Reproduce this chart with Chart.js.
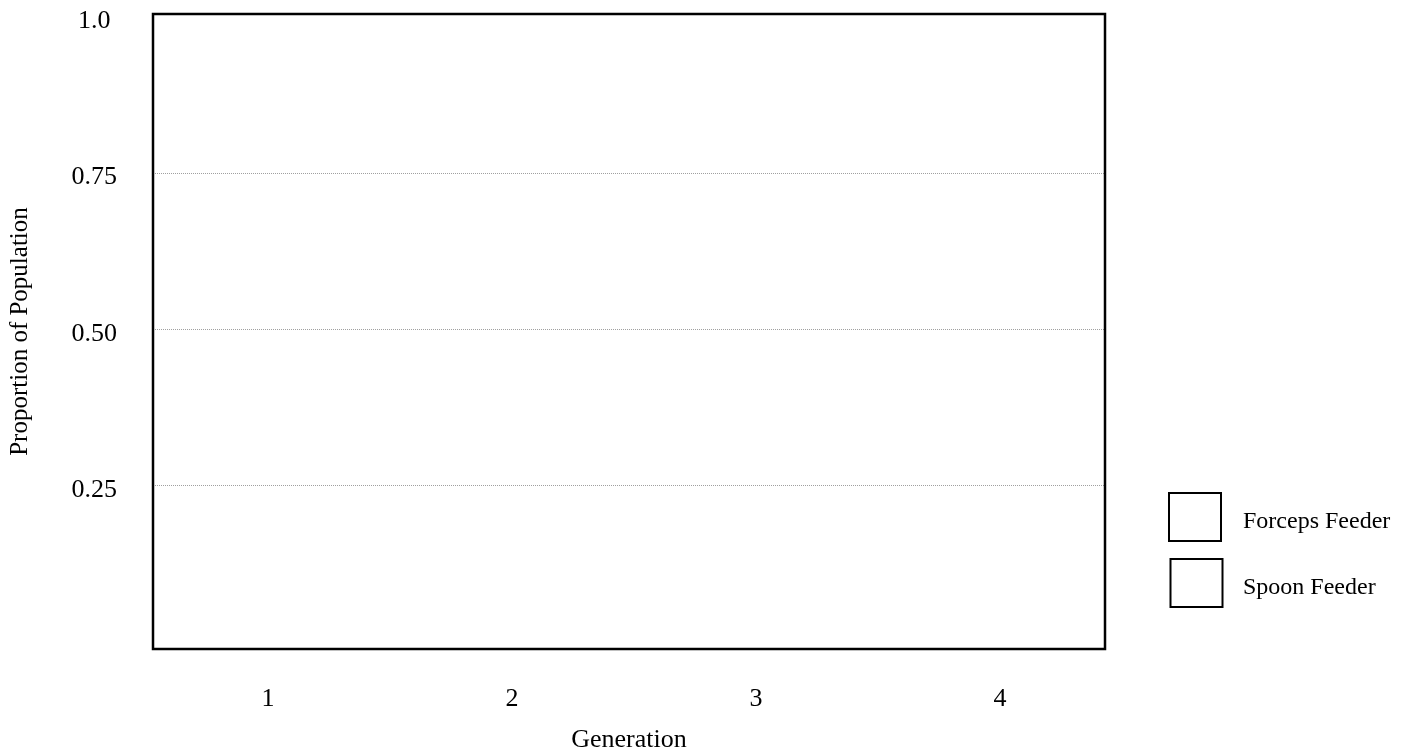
<!DOCTYPE html>
<html>
<head>
<meta charset="utf-8">
<title>Proportion of Population by Generation</title>
<script src="https://cdn.jsdelivr.net/npm/chart.js@4"></script>
<style>
html, body { margin: 0; padding: 0; background: #fff; }
#wrap { width: 1407px; height: 751px; }
</style>
</head>
<body>
<div id="wrap"><canvas id="myChart"></canvas></div>
<script>
// x axis: generations
var generations = [1, 2, 3, 4];
// blank worksheet chart - no values filled in yet
var forcepsFeeder = [null, null, null, null];
var spoonFeeder = [null, null, null, null];
var seriesNames = ['Forceps Feeder', 'Spoon Feeder'];
// y axis ticks
var yTickValues = [0.25, 0.5, 0.75, 1.0];
var yTickLabels = ['0.25', '0.50', '0.75', '1.0'];

Chart.defaults.font.family = "'Liberation Serif', 'Times New Roman', serif";
Chart.defaults.color = '#000';

// frame round the plot area
var framePlugin = {
	id: 'frame',
	afterDraw: function(chart){
		var a = chart.chartArea, ctx = chart.ctx;
		ctx.save();
		ctx.strokeStyle = '#000';
		ctx.lineWidth = 2.5;
		ctx.strokeRect(a.left, a.top, a.right - a.left, a.bottom - a.top);
		ctx.restore();
	}
};

// empty boxes legend on the right
var boxLegend = {
	id: 'boxLegend',
	afterDraw: function(chart){
		var a = chart.chartArea, ctx = chart.ctx;
		ctx.save();
		chart.data.datasets.forEach(function(ds, i){
			var bx = a.right + 64 + i * 1.5;
			var by = a.top + 479 + i * 66;
			ctx.strokeStyle = '#000';
			ctx.lineWidth = 2;
			ctx.fillStyle = ds.backgroundColor;
			ctx.fillRect(bx, by, 52, 48);
			ctx.strokeRect(bx, by, 52, 48);
			ctx.fillStyle = '#000';
			ctx.font = "24px 'Liberation Serif', 'Times New Roman', serif";
			ctx.textAlign = 'left';
			ctx.textBaseline = 'middle';
			ctx.fillText(ds.label, a.right + 138, by + 28.5);
		});
		ctx.restore();
	}
};

function toPoints(values){
	return generations.map(function(g, i){ return {x: g, y: values[i]}; });
}

var ctx = document.getElementById('myChart').getContext('2d');
var chart = new Chart(ctx, {
	type: 'bar',
	data: {
		datasets: [{
			label: seriesNames[0],
			data: toPoints(forcepsFeeder),
			backgroundColor: '#fff',
			borderColor: '#000',
			borderWidth: 2
		}, {
			label: seriesNames[1],
			data: toPoints(spoonFeeder),
			backgroundColor: '#fff',
			borderColor: '#000',
			borderWidth: 2
		}]
	},
	options: {
		responsive: true,
		maintainAspectRatio: false,
		animation: false,
		layout: { padding: { top: 14, right: 302, left: 0, bottom: 0 } },
		plugins: {
			legend: { display: false },
			tooltip: { enabled: false }
		},
		scales: {
			x: {
				type: 'linear',
				offset: false,
				min: 0.529,
				max: 4.43,
				afterBuildTicks: function(scale){
					scale.ticks = generations.map(function(v){ return {value: v}; });
				},
				afterFit: function(scale){
					scale.height = 102;
					scale.paddingLeft = 0;
					scale.paddingRight = 0;
				},
				ticks: {
					padding: 27,
					font: { size: 26 },
					callback: function(value){ return String(value); }
				},
				grid: { display: false },
				border: { display: false },
				title: {
					display: true,
					text: 'Generation',
					font: { size: 26, lineHeight: 0.8 },
					padding: { top: 0, bottom: 0 }
				}
			},
			y: {
				min: -0.0112,
				max: 1.0056,
				afterBuildTicks: function(scale){
					scale.ticks = yTickValues.map(function(v){ return {value: v}; });
				},
				afterFit: function(scale){
					scale.width = 153;
					scale.paddingTop = 0;
					scale.paddingBottom = 0;
				},
				ticks: {
					padding: 36,
					labelOffset: 4,
					crossAlign: 'center',
					font: { size: 26 },
					callback: function(value, index){ return yTickLabels[index]; }
				},
				grid: {
					drawTicks: false,
					lineWidth: 1,
					color: function(c){
						return (c.tick && c.tick.value < 1) ? '#a0a0a0' : 'rgba(0,0,0,0)';
					}
				},
				border: { display: false, dash: [1, 1] },
				title: {
					display: true,
					text: 'Proportion of Population',
					font: { size: 25 },
					padding: { top: 5, bottom: 0 }
				}
			}
		}
	},
	plugins: [framePlugin, boxLegend]
});
</script>
</body>
</html>
